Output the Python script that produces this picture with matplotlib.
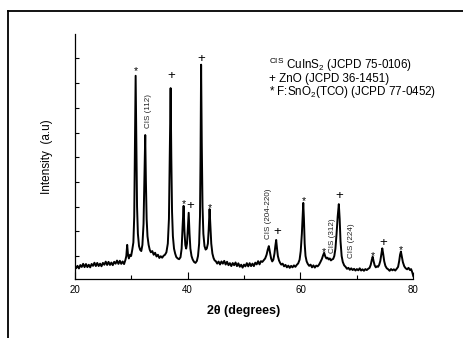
import matplotlib
matplotlib.use("Agg")
import matplotlib.pyplot as plt
from matplotlib.lines import Line2D

plt.rcParams['font.family'] = ['Liberation Sans', 'DejaVu Sans']
plt.rcParams['mathtext.fontset'] = 'custom'
plt.rcParams['mathtext.rm'] = 'Liberation Sans'
plt.rcParams['mathtext.it'] = 'Liberation Sans:italic'
plt.rcParams['mathtext.bf'] = 'Liberation Sans:bold'

# XRD pattern (2theta in degrees, intensity arbitrary units)
two_theta = [
    20.00, 20.25, 20.50, 20.75, 21.00, 21.25, 21.50, 21.75, 22.00, 22.25, 22.50, 22.75,
    23.00, 23.25, 23.50, 23.75, 24.00, 24.25, 24.50, 24.75, 25.00, 25.25, 25.50, 25.75,
    26.00, 26.25, 26.50, 26.75, 27.00, 27.25, 27.50, 27.75, 28.00, 28.25, 28.50, 28.75,
    29.00, 29.15, 29.30, 29.45, 29.60, 29.80, 30.00, 30.20, 30.40, 30.55, 30.68, 30.80,
    30.92, 31.05, 31.20, 31.40, 31.60, 31.80, 32.00, 32.20, 32.35, 32.50, 32.62, 32.75,
    32.90, 33.10, 33.30, 33.50, 33.75, 34.00, 34.25, 34.50, 34.75, 35.00, 35.25, 35.50,
    35.75, 36.00, 36.25, 36.50, 36.70, 36.85, 37.00, 37.12, 37.25, 37.40, 37.60, 37.80,
    38.00, 38.25, 38.50, 38.75, 38.95, 39.12, 39.30, 39.45, 39.60, 39.75, 39.90, 40.05,
    40.20, 40.35, 40.50, 40.70, 40.90, 41.15, 41.40, 41.65, 41.85, 42.05, 42.20, 42.30,
    42.40, 42.52, 42.65, 42.80, 43.00, 43.20, 43.40, 43.60, 43.75, 43.90, 44.05, 44.20,
    44.40, 44.60, 44.80, 45.00, 45.25, 45.50, 45.75, 46.00, 46.25, 46.50, 46.75, 47.00,
    47.25, 47.50, 47.75, 48.00, 48.25, 48.50, 48.75, 49.00, 49.25, 49.50, 49.75, 50.00,
    50.25, 50.50, 50.75, 51.00, 51.25, 51.50, 51.75, 52.00, 52.25, 52.50, 52.75, 53.00,
    53.25, 53.50, 53.75, 54.00, 54.20, 54.40, 54.60, 54.80, 55.00, 55.20, 55.40, 55.55,
    55.70, 55.85, 56.00, 56.20, 56.40, 56.60, 56.85, 57.10, 57.35, 57.60, 57.85, 58.10,
    58.35, 58.60, 58.85, 59.10, 59.35, 59.60, 59.85, 60.05, 60.25, 60.40, 60.50, 60.62,
    60.75, 60.90, 61.10, 61.30, 61.55, 61.80, 62.05, 62.30, 62.55, 62.80, 63.05, 63.30,
    63.55, 63.80, 64.00, 64.20, 64.40, 64.60, 64.80, 65.00, 65.20, 65.40, 65.60, 65.80,
    66.00, 66.20, 66.40, 66.60, 66.80, 66.95, 67.10, 67.30, 67.50, 67.75, 68.00, 68.25,
    68.50, 68.75, 69.00, 69.25, 69.50, 69.75, 70.00, 70.25, 70.50, 70.75, 71.00, 71.25,
    71.50, 71.75, 72.00, 72.25, 72.45, 72.65, 72.80, 72.95, 73.15, 73.35, 73.55, 73.75,
    73.95, 74.15, 74.35, 74.50, 74.65, 74.85, 75.05, 75.30, 75.55, 75.80, 76.05, 76.30,
    76.55, 76.80, 77.05, 77.30, 77.50, 77.65, 77.80, 77.95, 78.15, 78.40, 78.65, 78.90,
    79.15, 79.40, 79.60, 79.80, 80.00]
intensity = [
    630, 505, 601, 496, 632, 557, 683, 548, 674, 549, 645, 540,
    676, 601, 727, 592, 718, 593, 689, 584, 720, 645, 771, 636,
    762, 637, 733, 628, 764, 689, 815, 680, 806, 681, 777, 672,
    850, 1000, 1450, 1050, 900, 1050, 1000, 1250, 1550, 2600, 5500, 8300,
    5800, 3000, 1900, 1400, 1250, 1200, 1450, 2300, 4000, 5900, 4000, 2500,
    1800, 1450, 1250, 1150, 1200, 1050, 1130, 980, 1050, 920, 990, 930,
    1010, 1050, 1150, 1500, 2500, 5000, 7800, 5000, 2800, 1800, 1300, 1100,
    960, 900, 870, 950, 1300, 2200, 3030, 2000, 1450, 1300, 1500, 2100,
    2750, 1900, 1300, 1000, 860, 760, 720, 800, 1000, 1500, 2600, 5000,
    8750, 5500, 3000, 1900, 1400, 1260, 1300, 1500, 2100, 2900, 2200, 1500,
    1100, 920, 820, 790, 692, 774, 656, 778, 690, 802, 654, 766,
    628, 710, 592, 714, 626, 738, 590, 702, 564, 646, 528, 650,
    580, 710, 580, 710, 590, 690, 590, 730, 660, 790, 660, 790,
    760, 830, 900, 1050, 1250, 1400, 1150, 900, 780, 850, 1100, 1400,
    1650, 1300, 1000, 820, 720, 650, 690, 580, 640, 540, 610, 520,
    600, 540, 620, 560, 640, 700, 850, 1200, 1900, 2700, 3150, 2500,
    1500, 1000, 780, 680, 600, 650, 540, 620, 530, 610, 580, 650,
    760, 880, 1020, 1130, 980, 900, 930, 860, 900, 820, 860, 880,
    1000, 1300, 1900, 2600, 3100, 2500, 1600, 1000, 760, 620, 560, 480,
    520, 440, 500, 430, 480, 410, 470, 420, 500, 410, 460, 400,
    470, 430, 480, 520, 640, 850, 970, 800, 620, 540, 580, 560,
    640, 800, 1100, 1310, 1100, 780, 600, 500, 460, 400, 470, 420,
    460, 410, 480, 560, 800, 1050, 1180, 1000, 750, 580, 500, 460,
    520, 430, 470, 350, 180]

# Phase markers above peaks (2theta, intensity of glyph centre, symbol)
mark_x = [30.8, 37.1, 39.3, 40.5, 42.5, 44.0, 55.9, 60.6, 64.2, 66.9, 72.9, 74.6, 77.8]
mark_y = [8655, 8290, 3270, 3025, 8980, 3105, 1970, 3390, 1325, 3430, 1160, 1525, 1405]
mark_txt = ['*', '+', '*', '+', '+', '*', '+', '*', '*', '+', '*', '+', '*']

# CuInS2 reflection labels
cis_x = [33.0, 54.3, 65.6, 69.1]
cis_y = [6870, 2700, 1810, 1600]
cis_txt = ['CIS (112)', 'CIS (204-220)', 'CIS (312)', 'CIS (224)']

legend_lines = [r'$^{\rm CIS}$ CuInS$_{\rm 2}$ (JCPD 75-0106)',
                r'+ ZnO (JCPD 36-1451)',
                r'* F:SnO$_{\rm 2}$(TCO) (JCPD 77-0452)']

fig = plt.figure(figsize=(4.63, 3.38), dpi=100)
ax = fig.add_axes([0.1613, 0.1737, 0.7314, 0.7248])

ax.plot(two_theta, intensity, color='black', lw=1.4)

ax.set_xlim(20, 80)
ax.set_ylim(56, 9980)
ax.set_xticks([20, 40, 60, 80])
ax.set_xticks([30, 50, 70], minor=True)
ax.set_yticks(range(1000, 10000, 1000))
ax.set_yticklabels([])
ax.tick_params(axis='x', which='major', direction='in', length=5, width=0.8,
               labelsize=7, pad=4, colors='black')
ax.tick_params(axis='x', which='minor', direction='in', length=3, width=0.8)
ax.tick_params(axis='y', which='major', direction='in', length=3, width=0.8)
for s in ['top', 'right']:
    ax.spines[s].set_visible(False)
for s in ['left', 'bottom']:
    ax.spines[s].set_linewidth(0.9)

ax.set_xlabel('2θ (degrees)', fontsize=9, fontweight='bold', labelpad=7)
ax.set_ylabel('Intensity  (a.u)', fontsize=8.5, labelpad=12)

for x, y, t in zip(mark_x, mark_y, mark_txt):
    if t == '*':
        ax.text(x, y - 150, t, ha='center', va='center', fontsize=7.5)
    else:
        ax.text(x, y, t, ha='center', va='center', fontsize=9.5)

for x, y, t in zip(cis_x, cis_y, cis_txt):
    ax.text(x, y, t, ha='center', va='center', rotation=90, fontsize=5.8, color='#222222')

for i, t in enumerate(legend_lines):
    ax.text(0.574, 0.875 - i * 0.056, t, transform=ax.transAxes, fontsize=8.4,
            ha='left', va='center')

# outer frame (top and left edges visible)
fig.add_artist(Line2D([8 / 463, 1.0], [1 - 11 / 338, 1 - 11 / 338],
                      transform=fig.transFigure, color='black', lw=1.3))
fig.add_artist(Line2D([8 / 463, 8 / 463], [1 - 11 / 338, 0.0],
                      transform=fig.transFigure, color='black', lw=1.3))

fig.savefig('out.png', dpi=100)
